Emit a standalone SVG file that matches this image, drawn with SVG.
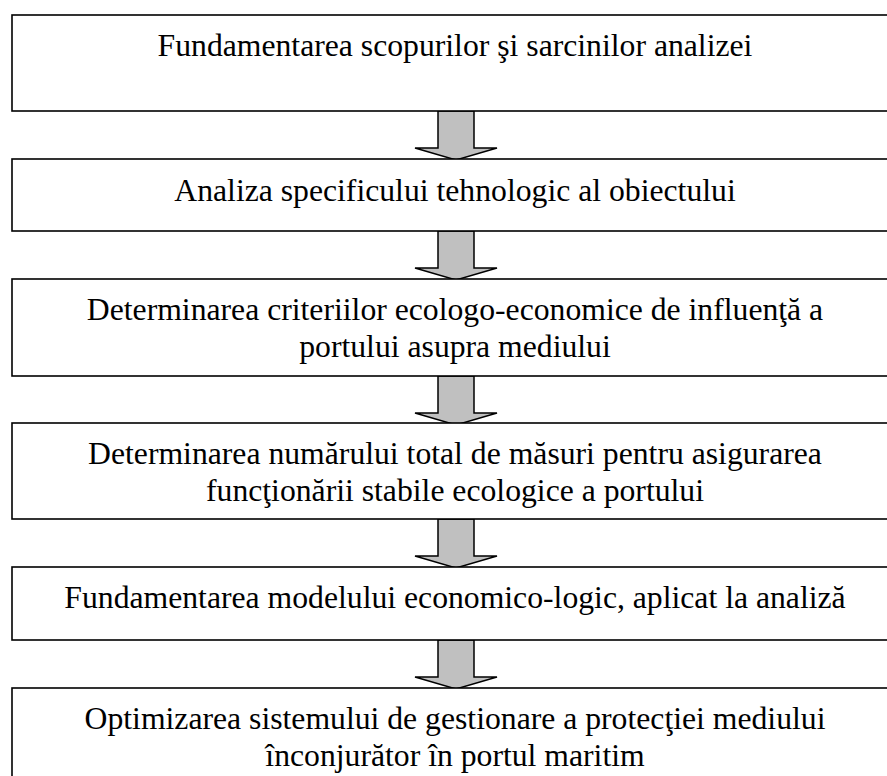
<svg xmlns="http://www.w3.org/2000/svg" width="887" height="776" viewBox="0 0 887 776">
  <defs>
    <!-- block arrow, drawn from the top of its shaft -->
    <path id="down" fill="#c0c0c0" stroke="#000000" stroke-width="1.5" d="M -18 0 L 18 0 L 18 37 L 41 37 L 0 49 L -41 37 L -18 37 Z"/>
  </defs>
  <rect width="887" height="776" fill="#ffffff"/>

  <g id="connectors">
    <use href="#down" x="456" y="111"/>
    <use href="#down" x="456" y="231"/>
    <use href="#down" x="456" y="376"/>
    <use href="#down" x="456" y="519"/>
    <use href="#down" x="456" y="640"/>
  </g>

  <g fill="#ffffff" stroke="#000000" stroke-width="1.6">
    <rect id="box1" x="12" y="15" width="887" height="96"/>
    <rect id="box2" x="12" y="159" width="887" height="72"/>
    <rect id="box3" x="12" y="279" width="887" height="97"/>
    <rect id="box4" x="12" y="423" width="887" height="96"/>
    <rect id="box5" x="12" y="567" width="887" height="73"/>
    <rect id="box6" x="12" y="688" width="887" height="96"/>
  </g>

  <text id="step1" x="455" y="56" font-family="Liberation Serif" font-size="31.7" text-anchor="middle">Fundamentarea scopurilor şi sarcinilor analizei</text>
  <text id="step2" x="455" y="201" font-family="Liberation Serif" font-size="31.7" text-anchor="middle">Analiza specificului tehnologic al obiectului</text>
  <g id="step3" font-family="Liberation Serif" font-size="31.7" text-anchor="middle">
    <text x="455" y="320">Determinarea criteriilor ecologo-economice de influenţă a</text>
    <text x="455" y="357">portului asupra mediului</text>
  </g>
  <g id="step4" font-family="Liberation Serif" font-size="31.7" text-anchor="middle">
    <text x="455" y="464">Determinarea numărului total de măsuri pentru asigurarea</text>
    <text x="455" y="501">funcţionării stabile ecologice a portului</text>
  </g>
  <text id="step5" x="455" y="608" font-family="Liberation Serif" font-size="31.7" text-anchor="middle">Fundamentarea modelului economico-logic, aplicat la analiză</text>
  <g id="step6" font-family="Liberation Serif" font-size="31.7" text-anchor="middle">
    <text x="455" y="729">Optimizarea sistemului de gestionare a protecţiei mediului</text>
    <text x="455" y="766">înconjurător în portul maritim</text>
  </g>
</svg>
